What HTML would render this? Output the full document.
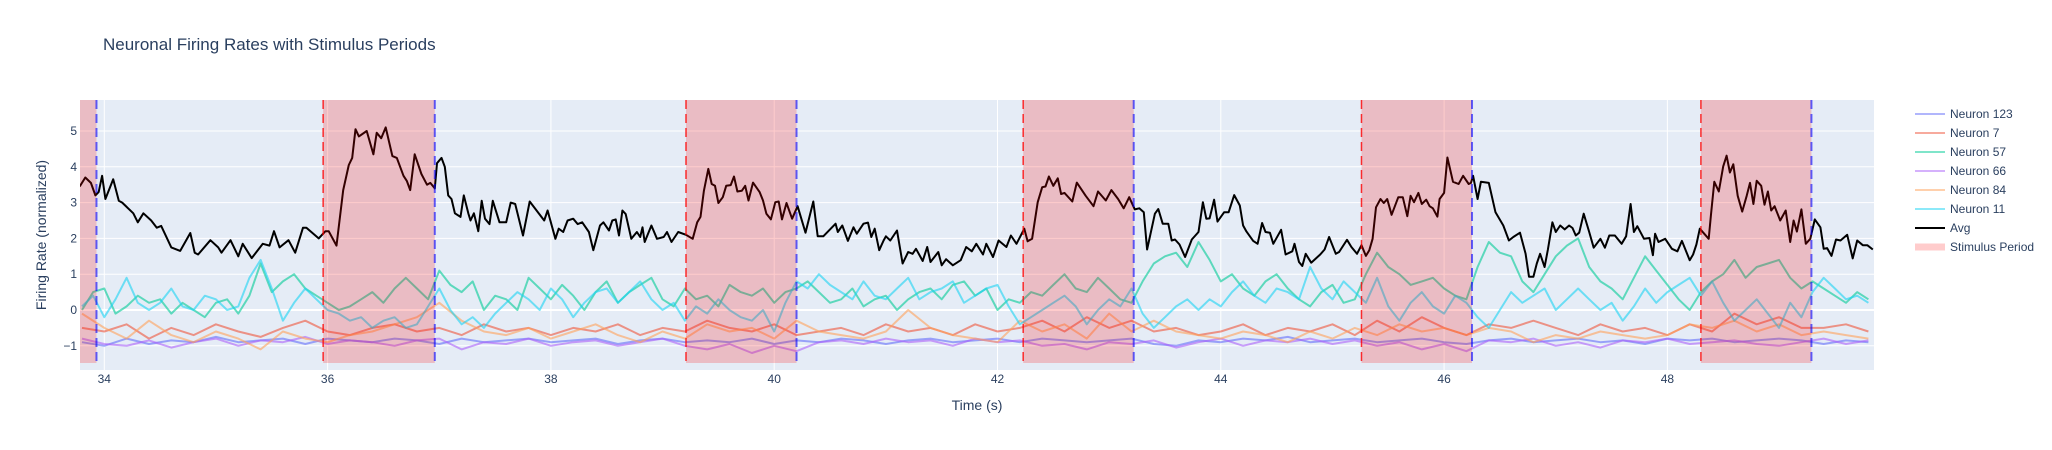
<!DOCTYPE html>
<html><head><meta charset="utf-8">
<style>
html,body{margin:0;padding:0;background:#fff;}
svg{display:block;font-family:"Liberation Sans",Arial,sans-serif;}
</style></head>
<body>
<svg id="chart" width="2052" height="450" viewBox="0 0 2052 450">
  <rect x="0" y="0" width="2052" height="450" fill="#fff"/>
  <text x="103" y="50" font-size="17" fill="#2a3f5f">Neuronal Firing Rates with Stimulus Periods</text>
  <rect x="80" y="100" width="1794" height="270" fill="#e5ecf6"/>
  <g id="grid"></g>
  <g id="traces"></g>
  <g id="shapes"></g>
  <g id="yticks"></g>
  <g id="xticks"></g>
  <text x="977" y="410" font-size="14" fill="#2a3f5f" text-anchor="middle">Time (s)</text>
  <text transform="translate(46,235) rotate(-90)" font-size="14" fill="#2a3f5f" text-anchor="middle">Firing Rate (normalized)</text>
  <g id="legend"></g>
</svg>
<script>
const NS="http://www.w3.org/2000/svg";
const xTicks=[34,36,38,40,42,44,46,48];
const yTicks=[-1,0,1,2,3,4,5];
const stimStarts=[32.93,35.96,39.21,42.23,45.26,48.30];
const stimEnds=[33.93,36.96,40.20,43.22,46.25,49.29];
const avgT=[33.78,33.83,33.88,33.92,33.95,33.98,34.01,34.08,34.13,34.16,34.26,34.30,34.35,34.42,34.47,34.51,34.60,34.68,34.77,34.81,34.84,34.95,35.02,35.05,35.13,35.2,35.24,35.32,35.42,35.48,35.52,35.57,35.65,35.71,35.78,35.81,35.92,35.98,36.01,36.08,36.14,36.19,36.22,36.25,36.28,36.35,36.41,36.44,36.48,36.52,36.58,36.62,36.68,36.71,36.74,36.78,36.84,36.89,36.92,36.96,36.98,37.02,37.05,37.08,37.11,37.14,37.19,37.22,37.26,37.28,37.31,37.35,37.38,37.41,37.45,37.48,37.54,37.60,37.64,37.68,37.75,37.81,37.94,37.97,38.04,38.07,38.11,38.15,38.2,38.24,38.28,38.34,38.38,38.44,38.47,38.52,38.55,38.58,38.61,38.64,38.67,38.72,38.77,38.80,38.82,38.84,38.90,38.95,39.01,39.04,39.08,39.14,39.21,39.27,39.31,39.34,39.37,39.41,39.44,39.47,39.5,39.54,39.57,39.61,39.64,39.67,39.71,39.74,39.77,39.81,39.87,39.9,39.93,39.97,40.01,40.04,40.07,40.11,40.16,40.21,40.28,40.35,40.39,40.44,40.55,40.57,40.61,40.66,40.71,40.74,40.8,40.84,40.87,40.9,40.94,40.98,41.0,41.04,41.1,41.15,41.2,41.24,41.27,41.33,41.37,41.4,41.47,41.5,41.54,41.6,41.67,41.72,41.77,41.81,41.87,41.9,41.96,42.01,42.08,42.12,42.17,42.24,42.27,42.31,42.36,42.4,42.43,42.46,42.5,42.54,42.57,42.6,42.67,42.71,42.79,42.86,42.9,42.97,43.02,43.08,43.13,43.18,43.23,43.27,43.31,43.34,43.41,43.44,43.48,43.53,43.56,43.59,43.63,43.68,43.74,43.8,43.84,43.87,43.9,43.94,43.97,44.03,44.07,44.12,44.17,44.2,44.23,44.29,44.33,44.37,44.4,44.44,44.47,44.54,44.58,44.64,44.66,44.7,44.73,44.76,44.81,44.89,44.93,44.97,45.03,45.06,45.13,45.17,45.22,45.26,45.3,45.33,45.36,45.39,45.43,45.46,45.49,45.53,45.59,45.63,45.67,45.7,45.73,45.77,45.8,45.84,45.87,45.9,45.94,45.96,46.0,46.03,46.08,46.13,46.17,46.22,46.24,46.26,46.3,46.33,46.4,46.46,46.53,46.58,46.62,46.68,46.73,46.76,46.8,46.83,46.86,46.9,46.93,46.97,47.0,47.04,47.08,47.12,47.15,47.18,47.21,47.25,47.3,47.34,47.4,47.44,47.48,47.53,47.59,47.63,47.67,47.7,47.73,47.79,47.84,47.87,47.89,47.92,47.98,48.04,48.09,48.13,48.2,48.23,48.26,48.29,48.37,48.39,48.42,48.46,48.5,48.53,48.56,48.59,48.63,48.67,48.71,48.74,48.77,48.8,48.84,48.87,48.9,48.93,48.96,49.01,49.06,49.1,49.13,49.16,49.2,49.24,49.28,49.32,49.37,49.4,49.43,49.47,49.51,49.55,49.61,49.66,49.7,49.75,49.79,49.84];
const avgV=[3.45,3.7,3.55,3.2,3.3,3.75,3.1,3.65,3.05,3.0,2.7,2.45,2.7,2.5,2.3,2.35,1.75,1.65,2.15,1.6,1.55,1.95,1.75,1.6,1.95,1.5,1.85,1.45,1.85,1.8,2.2,1.75,1.95,1.6,2.3,2.3,2.0,2.2,2.2,1.8,3.35,4.05,4.25,5.05,4.85,5.0,4.35,4.95,4.8,5.1,4.3,4.25,3.75,3.6,3.35,4.35,3.8,3.5,3.55,3.4,4.1,4.25,4.0,3.2,3.1,2.7,2.6,3.2,2.7,2.5,2.7,2.2,3.05,2.55,2.4,3.05,2.45,2.45,3.0,2.96,2.08,3.03,2.5,2.78,1.99,2.27,2.18,2.5,2.55,2.4,2.45,2.18,1.67,2.36,2.45,2.22,2.5,2.53,2.08,2.78,2.68,1.99,2.18,2.04,2.31,1.9,2.36,1.99,2.04,2.18,1.9,2.18,2.1,1.99,2.45,2.6,3.33,3.94,3.52,3.47,2.99,3.15,3.47,3.49,3.73,3.31,3.33,3.47,3.06,3.56,3.29,3.06,2.69,2.53,3.01,3.03,2.53,2.99,2.55,2.9,2.16,3.03,2.06,2.06,2.41,2.18,2.36,1.93,2.31,2.13,2.41,2.44,2.04,2.27,1.67,1.94,2.06,1.94,2.22,1.3,1.62,1.57,1.71,1.37,1.76,1.34,1.62,1.25,1.42,1.25,1.39,1.76,1.64,1.85,1.55,1.85,1.48,1.94,1.76,2.08,1.85,2.27,1.92,1.99,3.01,3.43,3.45,3.73,3.47,3.68,3.24,3.27,3.03,3.56,3.19,2.9,3.31,3.06,3.35,3.1,2.84,3.15,2.81,2.84,2.73,1.69,2.69,2.82,2.41,2.41,1.94,1.97,1.83,1.48,1.97,2.18,3.01,2.55,2.56,3.08,2.47,2.73,2.73,3.21,2.92,2.36,2.19,1.93,1.85,2.43,2.18,2.16,1.85,2.24,1.55,1.64,1.85,1.34,1.23,1.57,1.32,1.55,1.69,2.04,1.57,1.62,1.96,1.76,1.57,1.81,1.51,1.67,1.99,2.87,3.1,2.99,3.1,2.66,3.15,3.15,2.62,3.19,3.01,3.27,2.96,3.08,2.9,2.84,2.61,3.1,3.27,4.26,3.58,3.52,3.75,3.52,3.55,3.75,3.1,3.58,3.55,2.73,2.36,1.94,2.04,2.16,1.57,0.93,0.93,1.3,1.57,1.2,1.69,2.45,2.18,2.36,2.25,2.36,2.29,2.08,2.16,2.69,2.18,1.74,1.99,1.74,2.08,2.08,1.85,2.06,2.96,2.18,2.34,1.99,2.01,1.53,2.13,1.9,1.99,1.71,1.64,1.93,1.39,1.55,1.83,2.27,1.99,2.64,3.58,3.31,4.01,4.31,3.84,4.07,3.19,2.75,3.19,3.55,2.96,3.61,3.47,2.94,3.31,2.78,2.9,2.5,2.78,1.9,2.5,2.19,2.81,1.85,1.99,2.53,2.31,1.71,1.73,1.51,1.97,1.94,2.1,1.44,1.94,1.81,1.81,1.69,1.69];
// neuron series span 33.8 .. 49.8 s, evenly sampled
const nStart=33.8, nEnd=49.8;
const n123=[-0.9,-1.0,-0.8,-0.95,-0.85,-0.9,-0.75,-0.9,-0.85,-0.8,-0.95,-0.8,-0.85,-0.9,-0.8,-0.85,-0.95,-0.8,-0.9,-0.85,-0.8,-0.9,-0.85,-0.8,-0.95,-0.85,-0.8,-0.9,-0.85,-0.9,-0.8,-0.95,-0.85,-0.9,-0.8,-0.85,-0.95,-0.85,-0.8,-0.9,-0.85,-0.8,-0.9,-0.8,-0.85,-0.9,-0.85,-0.8,-0.95,-1.0,-0.85,-0.9,-0.8,-0.85,-0.75,-0.9,-0.85,-0.8,-0.9,-0.85,-0.8,-0.9,-0.95,-0.85,-0.8,-0.9,-0.85,-0.8,-0.9,-0.85,-0.95,-0.8,-0.85,-0.8,-0.9,-0.85,-0.8,-0.85,-0.95,-0.85,-0.9];
const n7=[-0.5,-0.6,-0.4,-0.8,-0.5,-0.7,-0.4,-0.6,-0.75,-0.5,-0.3,-0.6,-0.7,-0.5,-0.4,-0.6,-0.5,-0.7,-0.4,-0.6,-0.5,-0.7,-0.5,-0.6,-0.4,-0.7,-0.5,-0.6,-0.3,-0.5,-0.6,-0.4,-0.7,-0.6,-0.5,-0.7,-0.4,-0.6,-0.5,-0.7,-0.4,-0.6,-0.5,-0.3,-0.6,-0.2,-0.5,-0.3,-0.6,-0.5,-0.7,-0.6,-0.4,-0.7,-0.5,-0.6,-0.4,-0.7,-0.3,-0.6,-0.2,-0.5,-0.7,-0.4,-0.5,-0.3,-0.5,-0.7,-0.4,-0.6,-0.5,-0.7,-0.4,-0.6,-0.1,-0.4,-0.2,-0.5,-0.5,-0.4,-0.6];
const n57=[0.0,0.5,0.6,-0.1,0.1,0.4,0.2,0.3,-0.1,0.2,0.0,-0.2,0.2,0.3,-0.1,0.4,1.3,0.5,0.8,1.0,0.6,0.4,0.2,0.0,0.1,0.3,0.5,0.2,0.6,0.9,0.6,0.3,1.1,0.7,0.5,0.8,0.0,0.4,0.3,0.0,0.9,0.6,0.3,0.7,0.4,0.0,0.5,0.8,0.2,0.5,0.7,0.9,0.3,0.1,0.6,0.3,0.4,0.1,0.7,0.5,0.4,0.6,0.2,0.5,0.6,0.8,0.5,0.2,0.3,0.6,0.1,0.3,0.4,0.0,0.3,0.5,0.6,0.3,0.7,0.8,0.4,0.6,0.0,0.3,0.2,0.5,0.4,0.7,1.0,0.6,0.5,0.9,0.6,0.3,0.2,0.8,1.3,1.5,1.6,1.2,1.9,1.4,0.8,1.0,0.6,0.4,0.8,1.0,0.6,0.3,0.1,0.5,0.7,0.2,0.3,1.0,1.6,1.2,1.0,0.7,0.8,0.9,0.6,0.4,0.3,1.2,1.9,1.6,1.5,0.8,0.5,1.0,1.5,1.8,2.0,1.2,0.8,0.6,0.3,0.9,1.5,1.1,0.7,0.3,0.0,0.5,0.8,1.0,1.4,0.9,1.2,1.3,1.4,0.9,0.6,0.8,0.6,0.4,0.2,0.5,0.3];
const n66=[-0.8,-0.95,-1.0,-0.85,-1.05,-0.9,-0.8,-1.0,-0.85,-0.9,-0.75,-0.95,-0.85,-0.9,-1.0,-0.85,-0.8,-1.1,-0.9,-0.95,-0.8,-1.0,-0.9,-0.85,-1.0,-0.9,-0.8,-1.0,-1.1,-0.95,-1.2,-1.0,-1.15,-0.9,-0.85,-0.95,-0.8,-0.9,-0.85,-1.0,-0.8,-0.9,-0.85,-1.0,-0.95,-1.1,-0.9,-0.95,-0.85,-1.05,-0.9,-0.8,-1.0,-0.85,-0.9,-0.8,-0.95,-0.85,-1.0,-0.9,-1.1,-0.95,-1.15,-0.85,-0.9,-0.8,-1.0,-0.9,-1.05,-0.85,-0.9,-0.8,-0.95,-0.9,-0.85,-0.95,-1.0,-0.9,-0.8,-0.95,-0.85];
const n84=[-0.1,-0.5,-0.8,-0.3,-0.7,-0.9,-0.6,-0.8,-1.1,-0.6,-0.8,-0.9,-0.7,-0.6,-0.4,-0.2,0.2,-0.3,-0.6,-0.7,-0.5,-0.8,-0.6,-0.4,-0.7,-0.9,-0.6,-0.8,-0.4,-0.6,-0.5,-0.8,-0.3,-0.6,-0.7,-0.8,-0.6,0.0,-0.5,-0.7,-0.8,-0.9,-0.3,-0.6,-0.4,-0.8,-0.1,-0.6,-0.3,-0.6,-0.7,-0.8,-0.6,-0.7,-0.9,-0.6,-0.8,-0.5,-0.7,-0.4,-0.6,-0.5,-0.7,-0.5,-0.6,-0.9,-0.7,-0.8,-0.6,-0.7,-0.8,-0.7,-0.4,-0.5,-0.3,-0.6,-0.4,-0.7,-0.6,-0.7,-0.8];
const n11=[0.1,0.4,-0.2,0.3,0.9,0.2,0.0,0.2,0.6,0.1,0.0,0.4,0.3,0.0,0.1,0.9,1.4,0.6,-0.3,0.2,0.6,0.3,0.0,-0.1,-0.3,-0.2,-0.5,-0.3,-0.2,-0.5,-0.4,0.1,0.6,0.0,-0.4,-0.2,-0.5,-0.1,0.2,0.5,0.3,0.0,0.6,0.3,-0.2,0.2,0.5,0.6,0.2,0.5,0.8,0.3,0.0,0.2,-0.3,0.1,-0.1,0.3,0.0,-0.2,-0.3,0.0,-0.6,0.2,0.8,0.6,1.0,0.7,0.5,0.3,0.8,0.4,0.3,0.6,0.9,0.3,0.5,0.6,0.8,0.2,0.4,0.6,0.7,0.1,-0.4,-0.2,0.0,0.2,0.4,0.1,-0.4,0.0,0.3,0.1,0.6,-0.1,-0.5,-0.2,0.1,0.3,0.0,0.3,0.1,0.5,0.8,0.4,0.2,0.6,0.5,0.3,1.2,0.6,0.3,0.8,0.5,0.2,0.9,0.1,-0.3,0.2,0.5,0.1,-0.1,0.4,0.2,-0.2,-0.5,0.0,0.5,0.2,0.4,0.6,0.0,0.3,0.6,0.3,0.0,0.2,-0.3,0.1,0.6,0.2,0.5,0.7,0.9,0.4,0.8,0.2,-0.3,0.0,0.3,-0.1,-0.5,0.2,-0.2,0.5,0.9,0.6,0.3,0.4,0.2];

const L=80,R=1874,T=100,B=370;
function xs(t){return 104.3+(t-34)*111.65;}
function ys(v){return 310-v*35.8;}
function el(tag,attrs,parent){const e=document.createElementNS(NS,tag);for(const k in attrs)e.setAttribute(k,attrs[k]);parent.appendChild(e);return e;}

const grid=document.getElementById('grid');
yTicks.forEach(v=>{
  const l=el('line',{x1:L,x2:R,y1:ys(v),y2:ys(v),stroke:'#fff','stroke-width':v===0?2:1},grid);
  
  
});
xTicks.forEach(t=>{
  const l=el('line',{x1:xs(t),x2:xs(t),y1:T,y2:B,stroke:'#fff','stroke-width':1},grid);
  
  
});

const yg=document.getElementById('yticks');
yTicks.forEach(v=>{
  const tx=el('text',{x:77,y:ys(v)+4,'font-size':12,fill:'#2a3f5f','text-anchor':'end'},yg);
  tx.textContent=v<0?'\u2212'+Math.abs(v):String(v);
  
  
});
const xg=document.getElementById('xticks');
xTicks.forEach(t=>{
  const tx=el('text',{x:xs(t),y:383,'font-size':12,fill:'#2a3f5f','text-anchor':'middle'},xg);
  tx.textContent=String(t);
  
  
});

const clip=el('clipPath',{id:'pc'},document.getElementById('chart'));
el('rect',{x:L,y:T,width:R-L,height:B-T},clip);

const traces=document.getElementById('traces');
traces.setAttribute('clip-path','url(#pc)');
function pathFrom(ts,vs){return vs.map((v,i)=>(i?'L':'M')+xs(ts[i]).toFixed(1)+','+ys(v).toFixed(1)).join('');}
function timesFor(vals){const st=(nEnd-nStart)/(vals.length-1);return vals.map((_,i)=>nStart+i*st);}
const series=[
  {name:'neuron-123',vals:n123,color:'#636efa'},
  {name:'neuron-7',vals:n7,color:'#EF553B'},
  {name:'neuron-57',vals:n57,color:'#00cc96'},
  {name:'neuron-66',vals:n66,color:'#ab63fa'},
  {name:'neuron-84',vals:n84,color:'#FFA15A'},
  {name:'neuron-11',vals:n11,color:'#19d3f3'}
];
series.forEach(s=>{
  const p=el('path',{d:pathFrom(timesFor(s.vals),s.vals),fill:'none',stroke:s.color,'stroke-width':2,'stroke-opacity':0.6,'stroke-linejoin':'round'},traces);
  
  
});
const avgP=el('path',{d:pathFrom(avgT,avgV),fill:'none',stroke:'#000','stroke-width':2,'stroke-linejoin':'round'},traces);



const shapes=document.getElementById('shapes');
shapes.setAttribute('clip-path','url(#pc)');
stimStarts.forEach((s,i)=>{
  const e=stimEnds[i];
  const r=el('rect',{x:xs(s),y:T,width:xs(e)-xs(s),height:363-T,fill:'rgba(255,0,0,0.2)'},shapes);
  
  
  const a=el('line',{x1:xs(s),x2:xs(s),y1:T,y2:363,stroke:'rgba(255,0,0,0.8)','stroke-width':1.5,'stroke-dasharray':'9,5'},shapes);
  
  
  const b=el('line',{x1:xs(e),x2:xs(e),y1:T,y2:363,stroke:'rgba(0,0,255,0.6)','stroke-width':2,'stroke-dasharray':'9,5'},shapes);
  
  
});

const legend=document.getElementById('legend');
const legendItems=[
  {label:'Neuron 123',color:'rgba(99,110,250,0.5)',w:2},
  {label:'Neuron 7',color:'rgba(239,85,59,0.5)',w:2},
  {label:'Neuron 57',color:'rgba(0,204,150,0.5)',w:2},
  {label:'Neuron 66',color:'rgba(171,99,250,0.5)',w:2},
  {label:'Neuron 84',color:'rgba(255,161,90,0.5)',w:2},
  {label:'Neuron 11',color:'rgba(25,211,243,0.5)',w:2},
  {label:'Avg',color:'#000',w:2},
  {label:'Stimulus Period',color:'rgba(255,0,0,0.2)',w:7}
];
legendItems.forEach((it,i)=>{
  const y=114+i*19;
  const g=el('g',{},legend);
  
  
  el('line',{x1:1915,x2:1945,y1:y,y2:y,stroke:it.color,'stroke-width':it.w},g);
  const tx=el('text',{x:1950,y:y+4,'font-size':12,fill:'#2a3f5f'},g);
  tx.textContent=it.label;
});
</script>
</body></html>
